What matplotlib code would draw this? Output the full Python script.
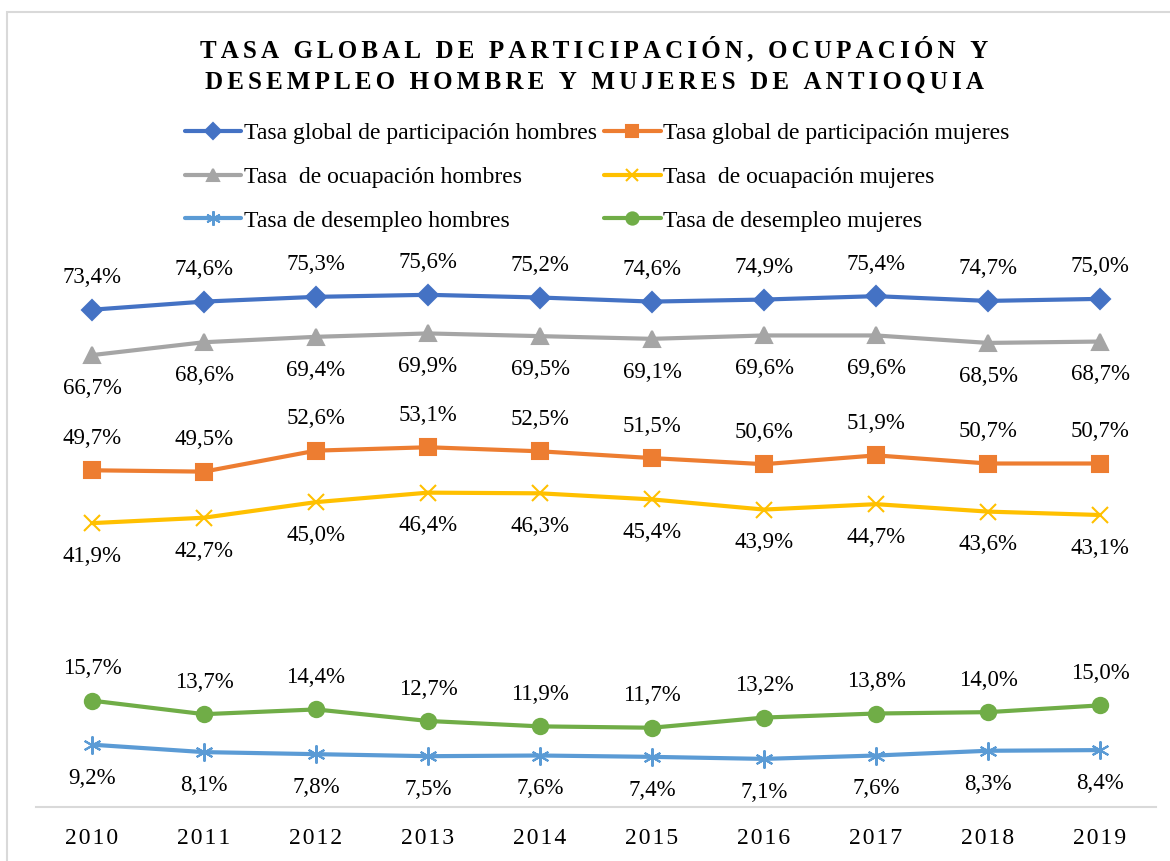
import matplotlib
matplotlib.use("Agg")
import matplotlib.pyplot as plt
from matplotlib.patches import Rectangle

plt.rcParams["font.family"] = ["Liberation Serif", "DejaVu Serif"]

years = ["2010", "2011", "2012", "2013", "2014", "2015", "2016", "2017", "2018", "2019"]
part_hombres = [73.4, 74.6, 75.3, 75.6, 75.2, 74.6, 74.9, 75.4, 74.7, 75.0]
part_mujeres = [49.7, 49.5, 52.6, 53.1, 52.5, 51.5, 50.6, 51.9, 50.7, 50.7]
ocup_hombres = [66.7, 68.6, 69.4, 69.9, 69.5, 69.1, 69.6, 69.6, 68.5, 68.7]
ocup_mujeres = [41.9, 42.7, 45.0, 46.4, 46.3, 45.4, 43.9, 44.7, 43.6, 43.1]
desem_hombres = [9.2, 8.1, 7.8, 7.5, 7.6, 7.4, 7.1, 7.6, 8.3, 8.4]
desem_mujeres = [15.7, 13.7, 14.4, 12.7, 11.9, 11.7, 13.2, 13.8, 14.0, 15.0]

W, H = 1170, 861
fig = plt.figure(figsize=(W / 100, H / 100), dpi=100)

# chart border (cropped on right / bottom)
fig.patches.append(Rectangle((7 / W, -0.1), 1.2, (H - 12) / H + 0.1, transform=fig.transFigure,
                             fill=False, edgecolor="#D9D9D9", linewidth=1.5))

ax = fig.add_axes([36 / W, (H - 807) / H, (1156 - 36) / W, (807 - 265) / H])
x = list(range(len(years)))

series = [
    (part_hombres, "Tasa global de participación hombres", "#4472C4", "D", 10, "above"),
    (part_mujeres, "Tasa global de participación mujeres", "#ED7D31", "s", 11, "above"),
    (ocup_hombres, "Tasa  de ocuapación hombres", "#A5A5A5", "^", 11, "below"),
    (ocup_mujeres, "Tasa  de ocuapación mujeres", "#FFC000", "x", 11, "below"),
    (desem_hombres, "Tasa de desempleo hombres", "#5B9BD5", (6, 2, 0), 13, "below"),
    (desem_mujeres, "Tasa de desempleo mujeres", "#70AD47", "o", 11, "above"),
]

handles = []
for vals, label, color, marker, ms, pos in series:
    ln, = ax.plot(x, vals, color=color, linewidth=3, marker=marker, markersize=ms,
                  markeredgecolor=color, markerfacecolor=color, markeredgewidth=1.5,
                  label=label, solid_capstyle="round", clip_on=False)
    handles.append(ln)
    dy = 23 if pos == "above" else -24
    for xi, v in zip(x, vals):
        ax.annotate(f"{v:.1f}%".replace(".", ","), (xi, v), xytext=(0, dy),
                    textcoords="offset points", ha="center", va="center", fontsize=16.5)

ax.set_xlim(-0.5, 9.5)
ax.set_ylim(0, 80)
ax.set_yticks([])
for s in ["top", "right", "left"]:
    ax.spines[s].set_visible(False)
ax.spines["bottom"].set_color("#D9D9D9")
ax.spines["bottom"].set_linewidth(1.5)
ax.set_xticks(x)
ax.set_xticklabels(["\u200a".join(y) for y in years], fontsize=17)
ax.tick_params(axis="x", length=0, pad=15)

title = ["TASA GLOBAL DE PARTICIPACIÓN, OCUPACIÓN Y", "DESEMPLEO HOMBRE Y MUJERES DE ANTIOQUIA"]
for i, t in enumerate(title):
    fig.text(594 / W, 1 - (49 + 33 * i) / H, "\u2006".join(t), ha="center", va="center",
             fontsize=18, fontweight="bold")

# legend fills column-wise, so order hombres first then mujeres
order = [0, 2, 4, 1, 3, 5]
fig.legend(handles=[handles[i] for i in order], loc="center", bbox_to_anchor=(597 / W, 1 - 177 / H),
           ncol=2, frameon=False, fontsize=17, handlelength=2.4, handletextpad=0.1,
           columnspacing=0.3, labelspacing=0.95, markerscale=0.8)

fig.savefig("out.png", dpi=100)
